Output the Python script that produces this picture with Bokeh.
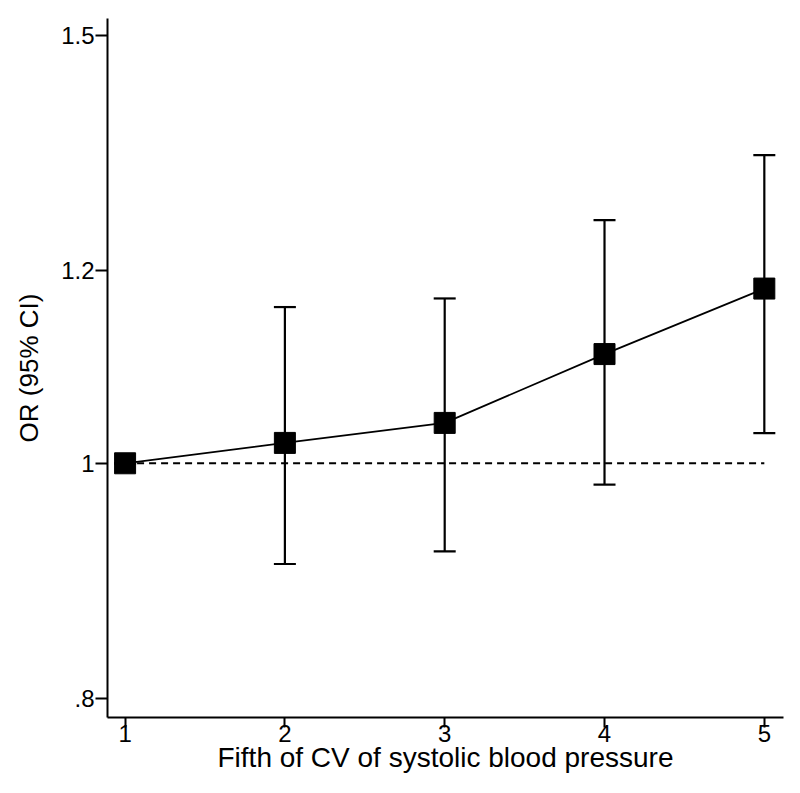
from bokeh.plotting import figure
from bokeh.models import Range1d, FixedTicker
from bokeh.embed import file_html
from bokeh.resources import INLINE

fifths = [1, 2, 3, 4, 5]
odds_ratio = [1.0, 1.0195, 1.039, 1.109, 1.180]
ci_lower = [1.0, 0.909, 0.920, 0.980, 1.029]
ci_upper = [1.0, 1.1595, 1.169, 1.259, 1.339]
y_ticks = [0.8, 1.0, 1.2, 1.5]
y_tick_labels = [".8", "1", "1.2", "1.5"]
x_ticks = [1, 2, 3, 4, 5]
ref_x = [1, 5]
ref_y = [1.0, 1.0]

FONT = "Liberation Sans"

p = figure(width=792, height=785, y_axis_type="log",
           x_range=Range1d(0.89, 5.12), y_range=Range1d(0.786, 1.524),
           output_backend="svg", toolbar_location=None,
           min_border_left=107, min_border_top=18, min_border_right=9, min_border_bottom=68)
p.outline_line_color = None
p.xgrid.visible = False
p.ygrid.visible = False
p.background_fill_color = "white"
p.border_fill_color = "white"

# reference line
p.line(ref_x, ref_y, line_color="black", line_width=2, line_dash="7 5")

# CI bars
p.segment(x0=fifths, y0=ci_lower, x1=fifths, y1=ci_upper, line_color="black", line_width=2.2)
p.scatter(fifths, ci_lower, marker="dash", size=22, line_color="black", line_width=2.2)
p.scatter(fifths, ci_upper, marker="dash", size=22, line_color="black", line_width=2.2)

# connecting line and markers
p.line(fifths, odds_ratio, line_color="black", line_width=1.8)
p.scatter(fifths, odds_ratio, marker="square", size=21, fill_color="black", line_color="black")

# axes
for ax in (p.xaxis[0], p.yaxis[0]):
    ax.axis_line_color = "black"
    ax.axis_line_width = 2
    ax.major_tick_line_color = "black"
    ax.major_tick_line_width = 2
    ax.minor_tick_line_color = None
    ax.major_tick_in = 0
    ax.major_label_text_font = FONT
    ax.major_label_text_color = "black"
    ax.axis_label_text_font = FONT
    ax.axis_label_text_font_style = "normal"
    ax.axis_label_text_color = "black"

p.xaxis.ticker = FixedTicker(ticks=x_ticks)
p.xaxis.major_tick_out = 10
p.xaxis.major_label_standoff = -3
p.xaxis.major_label_text_font_size = "24px"
p.xaxis.axis_label = "Fifth of CV of systolic blood pressure"
p.xaxis.axis_label_text_font_size = "28px"
p.xaxis.axis_label_standoff = -3

p.yaxis.ticker = FixedTicker(ticks=y_ticks)
p.yaxis.major_label_overrides = {t: l for t, l in zip(y_ticks, y_tick_labels)}
p.yaxis.major_tick_out = 12
p.yaxis.major_label_standoff = 1
p.yaxis.major_label_text_font_size = "24px"
p.yaxis.major_label_orientation = "horizontal"
p.yaxis.axis_label = "OR (95% CI)"
p.yaxis.axis_label_text_font_size = "26px"
p.yaxis.axis_label_standoff = 14

open("out.html", "w").write(file_html(p, INLINE))
